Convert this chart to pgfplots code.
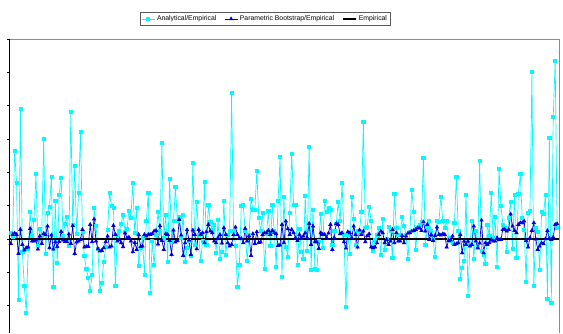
\documentclass[border=0pt]{standalone}
\usepackage{fontspec}
\setmainfont{Liberation Sans}
\usepackage{pgfplots}
\pgfplotsset{compat=1.18}
\usepackage{pgfplotstable}
\definecolor{aqua}{RGB}{0,250,255}
\definecolor{pbblue}{RGB}{0,0,215}

\pgfplotstableread[row sep=\\]{
y\\
0.18\\0.05\\2.65\\1.67\\-1.83\\3.9\\-0.4\\-1.42\\-2.22\\-0.3\\
0.8\\0.1\\0.58\\1.96\\-0.2\\0.3\\0.1\\3.0\\-0.44\\0.77\\
0.97\\1.85\\-1.44\\1.13\\-0.72\\1.33\\1.84\\0.1\\0.45\\0.65\\
-0.22\\3.8\\0.43\\2.19\\0.15\\1.39\\3.22\\0.2\\-0.52\\-0.9\\
-1.16\\-1.57\\-1.09\\0.92\\0.4\\-0.3\\-1.56\\-1.32\\-0.68\\-0.25\\
0.28\\1.39\\0.99\\0.94\\-1.42\\0.13\\0.23\\0.46\\0.72\\0.21\\
0.31\\0.83\\0.64\\1.67\\0.18\\0.92\\-0.8\\-0.27\\0.03\\-1.09\\
0.55\\1.39\\-1.61\\-0.07\\-0.79\\0.13\\0.8\\0.23\\2.87\\0.03\\
0.73\\-0.68\\1.8\\-0.09\\0.53\\1.56\\0.53\\0.67\\0.03\\0.72\\
-0.7\\-0.27\\-0.07\\-0.5\\2.27\\
-0.17\\1.11\\0.13\\-0.66\\-0.07\\1.72\\-0.17\\1.02\\0.5\\0.27\\
0.41\\-0.42\\0.58\\-0.6\\-0.38\\1.15\\-0.47\\0.13\\0.25\\4.37\\
0.23\\-0.22\\-1.45\\-0.79\\1.0\\1.01\\0.23\\-0.65\\0.13\\1.2\\
0.87\\0.87\\2.05\\0.63\\0.23\\0.79\\-0.9\\0.15\\0.83\\-0.22\\
1.02\\0.23\\-0.83\\1.14\\2.45\\-1.14\\1.27\\-0.23\\-0.55\\0.77\\
2.56\\1.02\\1.01\\-0.79\\0.31\\-0.38\\-0.6\\1.3\\-0.37\\2.77\\
-0.93\\0.88\\-0.91\\-0.94\\-0.05\\0.74\\-0.28\\1.14\\0.82\\0.92\\
0.87\\-0.17\\0.23\\0.45\\1.11\\0.53\\1.67\\0.13\\-2.03\\0.13\\
-0.44\\1.26\\0.6\\-0.17\\0.23\\0.23\\0.8\\3.51\\0.33\\0.36\\
0.95\\
0.53\\-0.35\\-0.02\\0.13\\0.33\\-0.49\\0.6\\-0.34\\0.01\\0.35\\
0.23\\-0.58\\1.36\\0.33\\0.11\\0.13\\0.65\\0.38\\0.13\\-0.6\\
0.2\\1.48\\0.82\\-0.34\\0.33\\0.43\\0.51\\2.44\\-0.19\\0.33\\
0.53\\0.23\\-0.02\\-0.55\\0.53\\0.51\\1.27\\0.53\\0.34\\0.53\\
0.03\\-0.07\\-0.12\\0.48\\1.86\\0.23\\-1.19\\-0.86\\-0.66\\1.32\\
-1.71\\-0.17\\0.53\\-0.59\\0.25\\-0.27\\2.34\\-0.37\\-0.47\\-0.76\\
0.43\\0.08\\1.39\\0.03\\0.65\\-0.84\\2.11\\1.0\\0.43\\0.33\\
-0.39\\0.62\\1.12\\-0.29\\1.32\\-0.57\\1.35\\1.94\\0.62\\0.28\\
-1.28\\0.79\\0.85\\5.01\\-1.4\\0.33\\0.21\\-0.92\\0.8\\0.75\\
1.32\\-1.81\\3.03\\-1.93\\3.65\\5.34\\0.33\\
}\analytical

\pgfplotstableread[row sep=\\]{
y\\
-0.14\\0.13\\0.17\\0.13\\-0.44\\0.28\\-0.17\\-0.34\\-0.27\\-0.25\\
0.31\\-0.07\\-0.07\\-0.04\\-0.31\\0.08\\-0.14\\0.16\\0.12\\0.38\\
-0.27\\0.11\\-0.31\\-0.09\\-0.24\\-0.08\\0.22\\-0.04\\-0.08\\-0.09\\
0.14\\-0.14\\0.39\\-0.44\\-0.1\\-0.07\\-0.02\\0.28\\-0.25\\-0.23\\
-0.23\\0.43\\-0.09\\0.59\\-0.07\\-0.3\\-0.37\\-0.35\\-0.27\\-0.09\\
0.08\\-0.25\\-0.22\\0.4\\0.13\\-0.07\\-0.02\\-0.12\\-0.24\\0.17\\
0.03\\0.05\\-0.07\\-0.39\\-0.11\\-0.32\\0.13\\-0.23\\-0.22\\0.13\\
0.08\\0.13\\0.13\\0.15\\0.23\\0.25\\-0.16\\0.39\\-0.05\\-0.32\\
0.15\\0.13\\-0.05\\-0.47\\0.26\\-0.1\\-0.05\\0.58\\0.11\\-0.5\\
-0.12\\0.27\\-0.04\\-0.47\\0.26\\
0.13\\-0.3\\0.28\\0.13\\0.18\\-0.12\\0.21\\0.43\\0.23\\0.18\\
-0.07\\-0.12\\0.03\\0.13\\-0.13\\0.33\\0.13\\-0.12\\-0.22\\-0.17\\
0.13\\0.35\\0.13\\0.01\\0.01\\-0.12\\0.31\\-0.07\\0.08\\-0.5\\
0.15\\-0.14\\0.21\\-0.11\\-0.1\\0.13\\0.18\\0.18\\0.25\\0.13\\
0.25\\0.18\\0.15\\-0.2\\-0.19\\0.43\\-0.12\\0.53\\0.3\\0.13\\
0.28\\0.18\\0.03\\-0.05\\0.13\\0.01\\0.08\\0.18\\0.03\\0.46\\
-0.17\\0.38\\-0.09\\-0.1\\-0.29\\0.18\\0.13\\0.13\\0.03\\0.17\\
0.43\\-0.32\\0.03\\0.46\\0.43\\0.15\\0.18\\-0.09\\-0.28\\0.21\\
0.18\\0.03\\0.38\\0.13\\-0.25\\0.26\\0.13\\0.23\\-0.09\\0.09\\
0.15\\
-0.25\\-0.27\\-0.25\\-0.12\\0.13\\0.23\\0.18\\-0.12\\-0.02\\-0.17\\
-0.07\\0.28\\-0.12\\0.18\\-0.07\\-0.07\\0.1\\-0.12\\0.08\\0.17\\
0.18\\0.23\\0.25\\0.28\\0.33\\0.33\\0.25\\0.51\\0.23\\0.43\\
-0.02\\0.13\\-0.05\\0.1\\0.35\\0.13\\0.11\\0.15\\0.13\\-0.25\\
-0.05\\-0.04\\0.08\\-0.17\\-0.15\\-0.12\\0.13\\-0.42\\-0.07\\-0.17\\
-0.07\\-0.22\\-0.17\\0.38\\-0.07\\-0.27\\-0.13\\0.56\\-0.42\\-0.12\\
-0.17\\-0.12\\-0.02\\-0.07\\-0.07\\0.03\\-0.03\\-0.02\\0.28\\0.28\\
0.23\\0.28\\0.74\\0.38\\0.25\\0.18\\0.43\\0.48\\0.48\\0.53\\
-0.05\\-0.25\\0.03\\0.25\\0.48\\-0.01\\-0.32\\-0.22\\-0.12\\-0.15\\
0.0\\0.25\\0.01\\-0.02\\0.05\\0.43\\0.45\\
}\bootstrap

\begin{document}
\begin{tikzpicture}
\begin{axis}[
  scale only axis,
  width=554pt, height=296.7pt,
  xmin=0.5, xmax=284, ymin=-2.83, ymax=6,
  xtick=\empty,
  ytick={-2,-1,0,1,2,3,4,5,6}, yticklabels={},
  ytick pos=left, tick align=outside,
  major tick length=3pt,
  every tick/.style={black, line width=0.6pt},
  axis line style={draw=none},
  clip=false,
  legend columns=3,
  legend style={at={(0.465,1.045)}, anchor=south,
    font=\fontsize{6.9}{8}\selectfont,
    draw=black!65, line width=0.8pt, inner sep=1.2pt,
    /tikz/every even column/.append style={column sep=6pt}},
  legend image code/.code={\draw[mark repeat=2,mark phase=2,#1] plot coordinates {(0cm,0cm) (0.23cm,0cm) (0.46cm,0cm)};},
]
\coordinate (O) at (rel axis cs:0,0);
\addplot[aqua, line width=0.7pt, mark=square*, mark size=1.6pt, mark options={solid, fill=aqua, draw=aqua}]
  table[x expr=\coordindex+1, y=y] {\analytical};
\addlegendentry{Analytical/Empirical}
\addplot[pbblue, line width=0.7pt, mark=triangle*, mark size=1.9pt, mark options={solid, fill=pbblue, draw=pbblue}]
  table[x expr=\coordindex+1, y=y] {\bootstrap};
\addlegendentry{Parametric Bootstrap/Empirical}
\addplot[black, line width=1.8pt] coordinates {(0.5,0) (284,0)};
\addlegendentry{Empirical}
\draw[black!45, line width=0.8pt] (rel axis cs:0,1) -- (rel axis cs:1,1) -- (rel axis cs:1,0);
\draw[black, line width=1pt] (rel axis cs:0,0) -- (rel axis cs:0,1);
\end{axis}
\path (O) ++(-5pt,0) rectangle ++(563pt,336pt);
\end{tikzpicture}
\end{document}
